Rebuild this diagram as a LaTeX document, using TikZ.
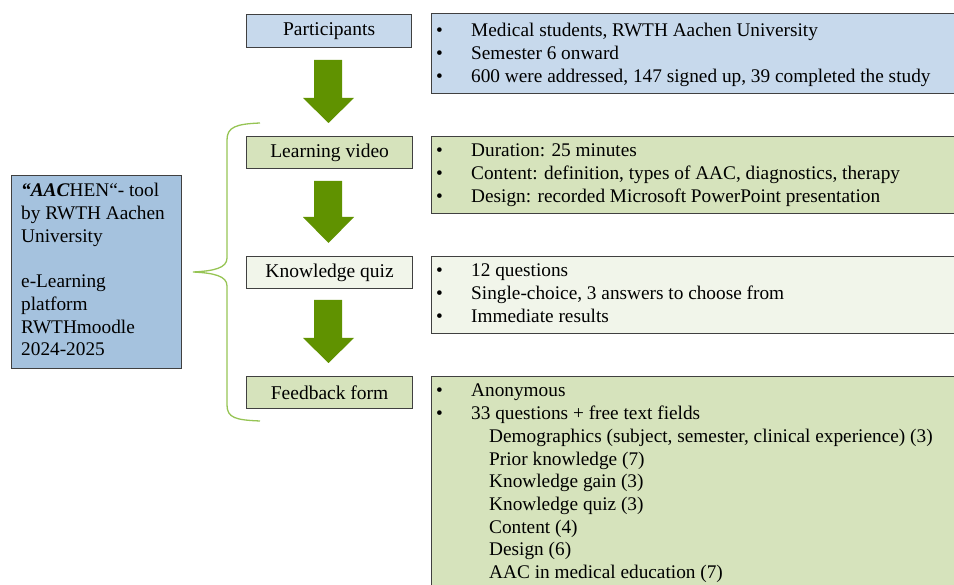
\documentclass[tikz,border=0pt]{standalone}
\usepackage{fontspec}
\setmainfont{Liberation Serif}
\definecolor{leftblue}{RGB}{165,194,222}
\definecolor{lightblue}{RGB}{199,217,236}
\definecolor{lightgreen}{RGB}{214,227,188}
\definecolor{palegreen}{RGB}{241,245,234}
\definecolor{arrowgreen}{RGB}{96,146,0}
\definecolor{bracegreen}{RGB}{150,196,84}
\definecolor{edgegray}{RGB}{64,64,64}
\newcommand\myarrow[3]{%
  \fill[arrowgreen] (314,#1) -- (342,#1) -- (342,#2) -- (354,#2) -- (328.5,#3) -- (303,#2) -- (314,#2) -- cycle;}
\begin{document}
\begin{tikzpicture}[x=1pt,y=-1pt,
  box/.style={draw=edgegray,line width=1.2pt,inner sep=0pt,anchor=north west},
  stage/.style={box,font=\fontsize{19.5}{22.7}\selectfont},
  txt/.style={anchor=base west,inner sep=0pt,font=\fontsize{19.3}{22.7}\selectfont},
  ]
\clip (0,0) rectangle (954,585);
% left box
\node[box,fill=leftblue,minimum width=170pt,minimum height=193pt] (tool) at (11,175) {};
\node[txt] (tooltxt) at (21,197) {\begin{tabular}[t]{@{}l@{}}\textbf{\textit{“AAC}}HEN“- tool\\by RWTH Aachen\\University\\[22.7pt]e-Learning\\platform\\RWTHmoodle\\2024-2025\end{tabular}};
% stage boxes
\node[stage,fill=lightblue,minimum width=165pt,minimum height=33pt] (part) at (246,14) {Participants};
\node[stage,fill=lightgreen,minimum width=166pt,minimum height=32pt] (video) at (246,136) {Learning video};
\node[stage,fill=palegreen,minimum width=166pt,minimum height=32pt] (quiz) at (246,256) {Knowledge quiz};
\node[stage,fill=lightgreen,minimum width=166pt,minimum height=32pt] (form) at (246,376) {Feedback form};
% detail boxes
\node[box,fill=lightblue,minimum width=540pt,minimum height=80pt] (partd) at (431,13) {};
\node[box,fill=lightgreen,minimum width=540pt,minimum height=77pt] (videod) at (431,136) {};
\node[box,fill=palegreen,minimum width=540pt,minimum height=77pt] (quizd) at (431,256) {};
\node[box,fill=lightgreen,minimum width=540pt,minimum height=240pt] (formd) at (431,376) {};
\node[txt] (partt) at (436,37) {\begin{tabular}[t]{@{}p{35pt}@{}l@{}}
•&Medical students, RWTH Aachen University\\
•&Semester 6 onward\\
•&600 were addressed, 147 signed up, 39 completed the study\end{tabular}};
\node[txt] (videot) at (436,157) {\begin{tabular}[t]{@{}p{35pt}@{}l@{}}
•&Duration: 25 minutes\\
•&Content: definition, types of AAC, diagnostics, therapy\\
•&Design: recorded Microsoft PowerPoint presentation\end{tabular}};
\node[txt] (quizt) at (436,277) {\begin{tabular}[t]{@{}p{35pt}@{}l@{}}
•&12 questions\\
•&Single-choice, 3 answers to choose from\\
•&Immediate results\end{tabular}};
\node[txt] (formt) at (436,397) {\begin{tabular}[t]{@{}p{35pt}@{}l@{}}
•&Anonymous\\
•&33 questions + free text fields\\
&\hspace{18pt}Demographics (subject, semester, clinical experience) (3)\\
&\hspace{18pt}Prior knowledge (7)\\
&\hspace{18pt}Knowledge gain (3)\\
&\hspace{18pt}Knowledge quiz (3)\\
&\hspace{18pt}Content (4)\\
&\hspace{18pt}Design (6)\\
&\hspace{18pt}AAC in medical education (7)\end{tabular}};
% arrows
\myarrow{60}{98}{123}
\myarrow{181}{217}{243}
\myarrow{300}{338}{363}
% brace
\coordinate (bt) at (260,123);
\coordinate (bm) at (193,272);
\coordinate (bb) at (260,421);
\draw[bracegreen,line width=1.3pt]
  (bt) .. controls (236,124) and (227,127) .. (227,140) -- (227,258)
  .. controls (227,268) and (214,271) .. (bm)
  .. controls (214,273) and (227,276) .. (227,286) -- (227,405)
  .. controls (227,418) and (236,420) .. (bb);
\end{tikzpicture}
\end{document}
